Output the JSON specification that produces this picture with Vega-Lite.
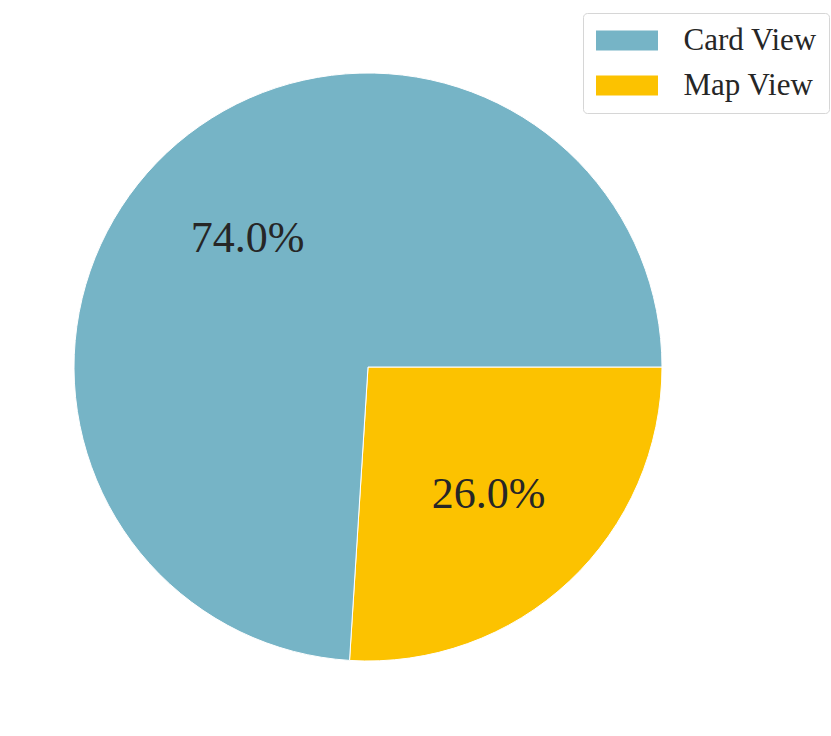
{
  "$schema": "https://vega.github.io/schema/vega-lite/v6.json",
  "width": 736,
  "height": 734,
  "autosize": {"type": "none"},
  "padding": {"left": 0, "top": 0, "right": 95, "bottom": 2},
  "background": "white",
  "config": {"view": {"stroke": null}, "font": "Liberation Serif"},
  "data": {
    "values": [
      {"category": "Map View", "value": 26.0, "label": "26.0%", "ord": 0},
      {"category": "Card View", "value": 74.0, "label": "74.0%", "ord": 1}
    ]
  },
  "encoding": {
    "theta": {"field": "value", "type": "quantitative", "stack": true, "scale": {"range": [1.5707963, 7.8539816]}},
    "order": {"field": "ord", "type": "quantitative"}
  },
  "layer": [
    {
      "mark": {"type": "arc", "outerRadius": 294, "stroke": "white", "strokeWidth": 1},
      "encoding": {
        "color": {
          "field": "category",
          "type": "nominal",
          "scale": {"domain": ["Card View", "Map View"], "range": ["#76b4c6", "#fcc200"]},
          "legend": {
            "title": null,
            "orient": "none",
            "legendX": 583,
            "legendY": 13,
            "padding": 12,
            "fillColor": "white",
            "strokeColor": "#d6d6d6",
            "cornerRadius": 4,
            "symbolType": "M-3,-0.97H3V0.97H-3Z",
            "symbolSize": 427,
            "symbolStrokeWidth": 0,
            "symbolOffset": 16.5,
            "labelFont": "Liberation Serif",
            "labelFontSize": 31,
            "labelColor": "#262626",
            "labelOffset": 41,
            "rowPadding": 13
          }
        }
      }
    },
    {
      "mark": {"type": "text", "radius": 176, "font": "Liberation Serif", "fontSize": 44, "color": "#262626", "align": "center", "baseline": "middle"},
      "encoding": {
        "text": {"field": "label", "type": "nominal"}
      }
    }
  ]
}
